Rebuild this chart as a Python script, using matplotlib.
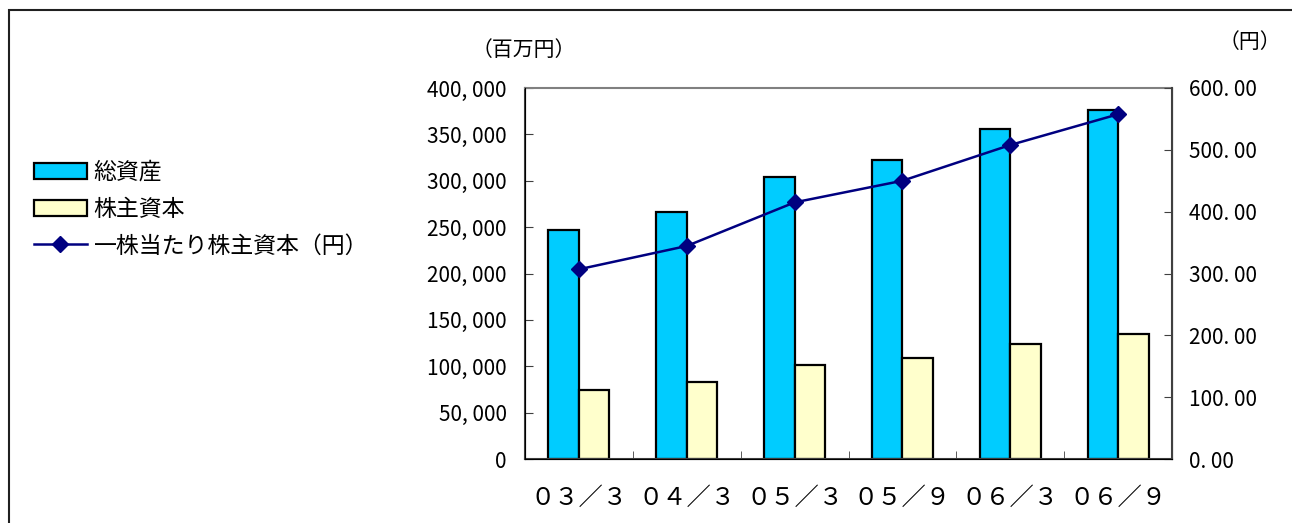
import numpy as np
import matplotlib.pyplot as plt
from matplotlib.patches import Rectangle
from matplotlib.ticker import FuncFormatter, FixedLocator

plt.rcParams['font.family'] = ['Noto Sans CJK JP', 'DejaVu Sans']

# Data
categories = ['０３／３', '０４／３', '０５／３', '０５／９', '０６／３', '０６／９']
total_assets = [247000, 266500, 303700, 322400, 355500, 376000]
equity = [74000, 83300, 101000, 108600, 123600, 134800]
equity_per_share = [306.8, 344.5, 415.0, 450.0, 507.8, 557.5]

labels = ['総資産', '株主資本', '一株当たり株主資本（円）']

fig = plt.figure(figsize=(12.92, 5.23), dpi=100)

# outer frame
fig.patches.append(Rectangle((9 / 1292, -0.01), 1.1, (523 - 10) / 523 + 0.01,
                             transform=fig.transFigure, fill=False,
                             edgecolor='#202020', linewidth=1.5))

ax = fig.add_axes([525 / 1292, 64 / 523, 647 / 1292, 371 / 523])
x = np.arange(len(categories))
w = 0.283
b1 = ax.bar(x - w / 2, total_assets, w, color='#00CCFF', edgecolor='black',
            linewidth=1.6, label=labels[0], zorder=2)
b2 = ax.bar(x + w / 2, equity, w, color='#FFFFCC', edgecolor='black',
            linewidth=1.6, label=labels[1], zorder=2)
ax.set_xlim(-0.5, len(categories) - 0.5)
ax.set_ylim(0, 400000)
ax.set_yticks(np.arange(0, 400001, 50000))
ax.yaxis.set_major_formatter(FuncFormatter(lambda v, p: f'{int(v):,}'.replace(',', ', ')))
ax.set_xticks(x)
ax.set_xticklabels(categories, fontsize=17.5)
ax.xaxis.set_minor_locator(FixedLocator(np.arange(0.5, len(categories) - 1, 1)))
ax.tick_params(axis='x', which='major', length=0, pad=19)
ax.tick_params(axis='x', which='minor', direction='in', length=6, color='#404040')
ax.tick_params(axis='y', direction='in', length=6, color='#404040', labelsize=15, pad=13)
for s in ['left', 'bottom']:
    ax.spines[s].set_color('#404040')
    ax.spines[s].set_linewidth(1.5)
ax.spines['top'].set_color('#808080')
ax.spines['top'].set_linewidth(1.5)

ax2 = ax.twinx()
l1, = ax2.plot(x, equity_per_share, color='#000080', linewidth=1.8,
               marker='D', markersize=8, label=labels[2], zorder=3)
ax2.set_ylim(0, 600)
ax2.set_yticks(np.arange(0, 601, 100))
ax2.yaxis.set_major_formatter(FuncFormatter(lambda v, p: f'{v:.2f}'.replace('.', '. ')))
ax2.tick_params(axis='y', direction='in', length=6, color='#404040', labelsize=15, pad=12)
ax2.spines['right'].set_color('#404040')
ax2.spines['right'].set_linewidth(1.5)
ax2.spines['top'].set_visible(False)

fig.text(524 / 1292, 1 - 50 / 523, '（百万円）', fontsize=15, ha='center', va='center')
fig.text(1250 / 1292, 1 - 42 / 523, '（円）', fontsize=15, ha='center', va='center')

fig.legend([b1, b2, l1], labels, loc='upper left',
           bbox_to_anchor=(34 / 1292, 1 - 161 / 523), frameon=False,
           fontsize=16.5, handlelength=2.3, handleheight=0.72, handletextpad=0.3,
           labelspacing=0.6, borderpad=0, borderaxespad=0)

fig.savefig('out.png', dpi=100)
